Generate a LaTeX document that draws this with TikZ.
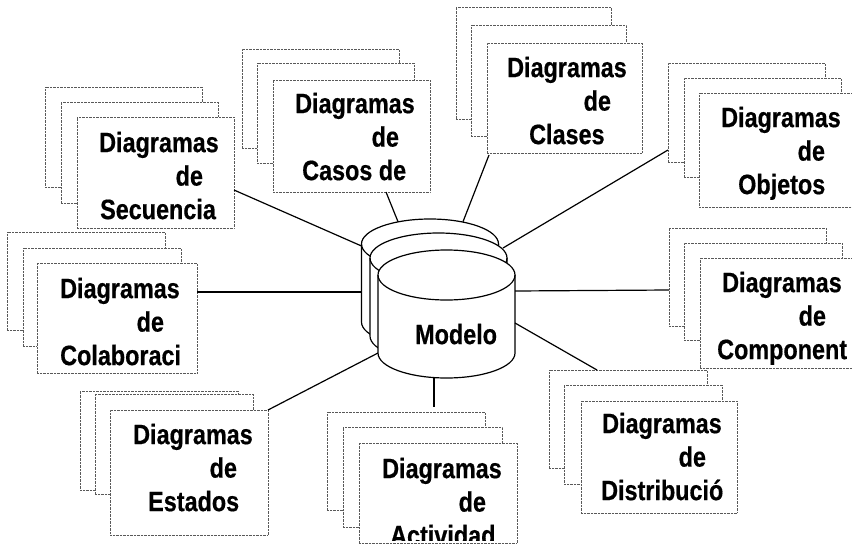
\documentclass[tikz,border=0pt]{standalone}
\usepackage{fontspec}
\setmainfont[FakeStretch=0.835,BoldFeatures={FakeBold=0.5}]{Liberation Sans}
\tikzstyle{sheet} = [rectangle, draw=black!65, densely dotted, fill=white, anchor=north west,
    inner sep=0pt, outer sep=0pt, minimum width=157pt, minimum height=99pt]
\tikzstyle{caption} = [anchor=north west, inner sep=0pt, align=left,
    font=\bfseries\fontsize{28}{33.5}\selectfont]
\tikzstyle{drum} = [rectangle, inner sep=0pt, outer sep=0pt, minimum width=137pt, minimum height=128pt]
\tikzstyle{drumline} = [draw=black, fill=white, line width=1.2pt]
\tikzstyle{link} = [black, line width=1.2pt]
\newcommand{\drumat}[1]{
  \draw [drumline] ([yshift=-25pt]#1.north west) arc (180:0:68.5pt and 25pt)
    -- ([yshift=25pt]#1.south east) arc (0:-180:68.5pt and 25pt) -- cycle;
  \draw [drumline, fill=none] ([yshift=-25pt]#1.north west) arc (180:360:68.5pt and 25pt);
}

\begin{document}
\begin{tikzpicture}[x=1pt, y=-1pt]
  \useasboundingbox (0,0) rectangle (852,544);
  % Place sheets
  \node [sheet, minimum height=100pt] (secuencia1) at (45,87) {};
  \node [sheet, minimum height=101pt] (secuencia2) at (61,102) {};
  \node [sheet, minimum height=111pt] (secuencia3) at (77,117) {};
  \node [sheet] (casos1) at (242,49) {};
  \node [sheet, minimum height=100pt] (casos2) at (257,63) {};
  \node [sheet, minimum height=112pt] (casos3) at (273,80) {};
  \node [sheet, minimum height=112pt, minimum width=155pt] (clases1) at (456,7) {};
  \node [sheet, minimum height=111pt, minimum width=155pt] (clases2) at (471,25) {};
  \node [sheet, minimum height=110pt, minimum width=155pt] (clases3) at (487,43) {};
  \node [sheet] (objetos1) at (668,63) {};
  \node [sheet] (objetos2) at (684,78) {};
  \node [sheet, minimum height=114pt] (objetos3) at (699,93) {};
  \node [sheet, minimum width=158pt, minimum height=98pt] (colaboraci1) at (7,232) {};
  \node [sheet, minimum width=158pt, minimum height=98pt] (colaboraci2) at (23,248) {};
  \node [sheet, minimum width=160pt, minimum height=110pt] (colaboraci3) at (37,263) {};
  \node [sheet, minimum height=98pt] (component1) at (669,228) {};
  \node [sheet, minimum width=158pt, minimum height=97pt] (component2) at (684,243) {};
  \node [sheet, minimum height=110pt] (component3) at (700,258) {};
  \node [sheet, minimum width=158pt] (estados1) at (80,391) {};
  \node [sheet, minimum width=158pt, minimum height=100pt] (estados2) at (95,394) {};
  \node [sheet, minimum width=158pt, minimum height=125pt] (estados3) at (110,410) {};
  \node [sheet, minimum width=158pt, minimum height=98pt] (actividad1) at (327,412) {};
  \node [sheet, minimum width=159pt, minimum height=100pt] (actividad2) at (343,427) {};
  \node [sheet, minimum width=158pt, minimum height=100pt] (actividad3) at (359,443) {};
  \node [sheet, minimum width=158pt, minimum height=98pt] (distribucio1) at (549,370) {};
  \node [sheet, minimum width=158pt] (distribucio2) at (564,385) {};
  \node [sheet, minimum height=112pt, minimum width=156pt] (distribucio3) at (581,401) {};
  % Place texts
  \node [caption] (secuencia) at (99,131.6) {Diagramas\\\hspace*{76.5pt}de\\\hspace*{1pt}Secuencia};
  \node [caption] (casos) at (295,92.6) {Diagramas\\\hspace*{76.5pt}de\\\hspace*{7pt}Casos de};
  \node [caption] (clases) at (507,56.6) {Diagramas\\\hspace*{76.5pt}de\\\hspace*{22pt}Clases};
  \node [caption] (objetos) at (721,106.6) {Diagramas\\\hspace*{76.5pt}de\\\hspace*{17pt}Objetos};
  \node [caption] (colaboraci) at (60,277.6) {Diagramas\\\hspace*{76.5pt}de\\Colaboraci};
  \node [caption] (component) at (722,271.6) {Diagramas\\\hspace*{76.5pt}de\\\hspace*{-5pt}Component};
  \node [caption] (estados) at (133,423.6) {Diagramas\\\hspace*{76.5pt}de\\\hspace*{15pt}Estados};
  \node [caption] (distribucio) at (602,412.6) {Diagramas\\\hspace*{76.5pt}de\\\hspace*{-1pt}Distribució};
  \begin{scope}
    \clip (300,400) rectangle (530,540);
    \node [caption] (actividad) at (382,457.6) {Diagramas\\\hspace*{76.5pt}de\\\hspace*{8pt}Actividad};
  \end{scope}
  % Place drums
  \node [drum] (drum1) at (430,283) {};
  \node [drum] (drum2) at (438.5,297) {};
  \node [drum] (drum3) at (446.5,314) {};
  \drumat{drum1}
  \drumat{drum2}
  \drumat{drum3}
  \node [anchor=north west, inner sep=0pt, font=\bfseries\fontsize{28}{33.5}\selectfont] (modelo) at (415,323.6) {Modelo};
  % Draw edges
  \draw [link] ([yshift=-17.5pt]secuencia3.east) -- ([yshift=37pt]drum1.west);
  \draw [link] ([xshift=34.5pt]casos3.south) -- ([shift={(-32pt,-2.7pt)}]drum1.north);
  \draw [link] ([shift={(-75.5pt,-2pt)}]clases3.south) -- ([shift={(33pt,-2.7pt)}]drum1.north);
  \draw [link] ([yshift=-37.5pt]objetos1.west) -- ([shift={(-4pt,49pt)}]drum2.east);
  \draw [link] ([yshift=26pt]colaboraci3.east) -- ([yshift=-9pt]drum1.west);
  \draw [link] ([yshift=23pt]drum3.east) -- ([yshift=-13pt]component1.west);
  \draw [link] ([yshift=-9pt]drum3.east) -- ([xshift=-31pt]distribucio1.north);
  \draw [link] ([xshift=-12.5pt]drum3.south) -- ([shift={(28pt,5pt)}]actividad1.north);
  \draw [link] ([yshift=-39pt]drum3.west) -- (estados3.north east);
\end{tikzpicture}
\end{document}
